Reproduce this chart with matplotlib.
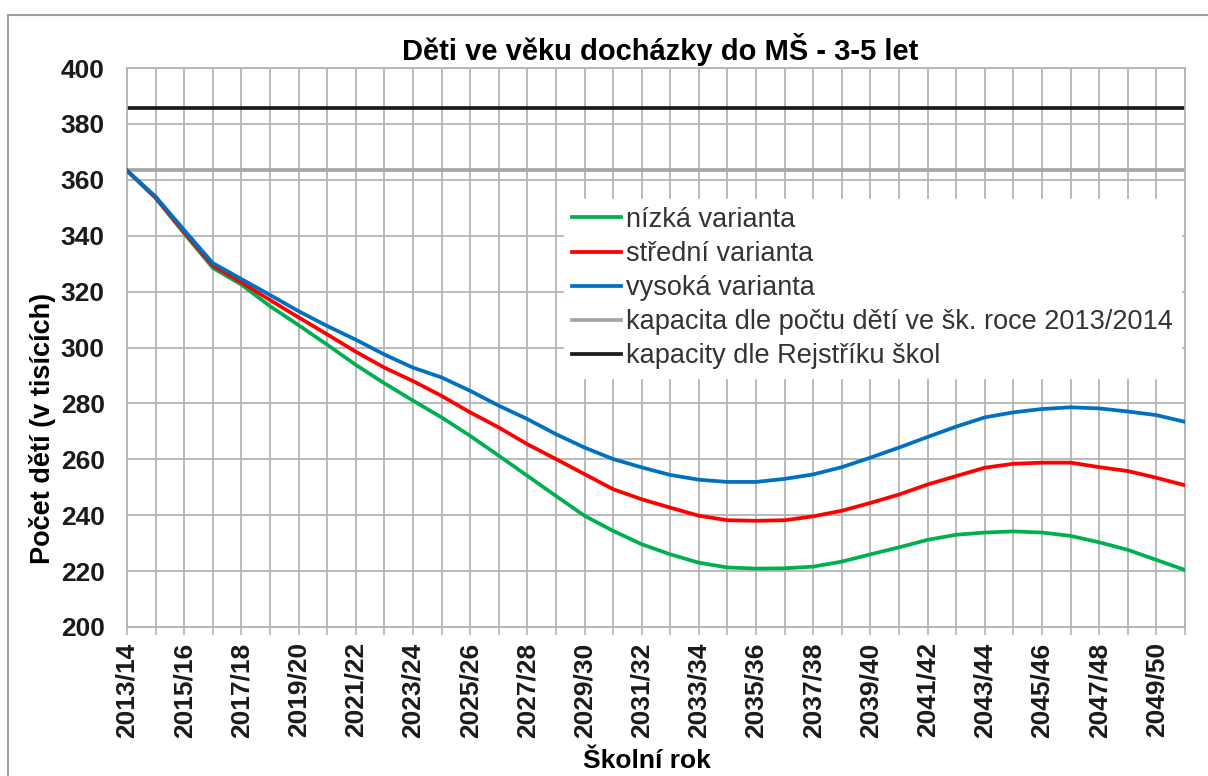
"""Děti ve věku docházky do MŠ - projekce podle variant."""

import matplotlib
matplotlib.use("Agg")
import matplotlib.pyplot as plt
from matplotlib.patches import Rectangle

plt.rcParams["font.family"] = ["Liberation Sans", "DejaVu Sans"]

school_years = [
    "2013/14", "2014/15", "2015/16", "2016/17", "2017/18", "2018/19", "2019/20",
    "2020/21", "2021/22", "2022/23", "2023/24", "2024/25", "2025/26", "2026/27",
    "2027/28", "2028/29", "2029/30", "2030/31", "2031/32", "2032/33", "2033/34",
    "2034/35", "2035/36", "2036/37", "2037/38", "2038/39", "2039/40", "2040/41",
    "2041/42", "2042/43", "2043/44", "2044/45", "2045/46", "2046/47", "2047/48",
    "2048/49", "2049/50", "2050/51",
]

# v tisících
low = [363.3, 353.5, 340.8, 328.5, 322.5, 314.8, 308.0, 301.0, 293.8, 287.2,
       281.0, 275.0, 268.4, 261.3, 254.1, 246.9, 239.8, 234.4, 229.6, 226.0,
       223.0, 221.3, 220.9, 221.0, 221.6, 223.4, 226.0, 228.5, 231.2, 233.0,
       233.8, 234.2, 233.8, 232.6, 230.3, 227.6, 224.0, 220.4]
medium = [363.3, 353.6, 341.3, 329.3, 323.3, 317.0, 310.8, 304.7, 298.5, 292.8,
          288.0, 282.7, 276.8, 271.4, 265.4, 260.1, 254.7, 249.3, 245.7, 242.7,
          239.8, 238.2, 238.0, 238.2, 239.6, 241.6, 244.4, 247.4, 251.0, 254.0,
          257.0, 258.4, 258.8, 258.8, 257.2, 255.8, 253.4, 250.7]
high = [363.3, 354.0, 342.0, 330.2, 324.5, 318.8, 313.0, 307.7, 302.8, 297.5,
        292.8, 289.3, 284.5, 279.2, 274.4, 269.0, 264.2, 260.1, 257.1, 254.4,
        252.7, 251.9, 251.9, 253.0, 254.6, 257.2, 260.6, 264.2, 268.0, 271.7,
        275.0, 276.8, 278.0, 278.6, 278.2, 277.1, 275.8, 273.4]

capacity_2013 = 363.6
capacity_register = 385.6

labels = [
    "nízká varianta",
    "střední varianta",
    "vysoká varianta",
    "kapacita dle počtu dětí ve šk. roce 2013/2014",
    "kapacity dle Rejstříku škol",
]

grid_col = "#b4b4b4"
x = list(range(len(school_years)))

fig = plt.figure(figsize=(12.08, 7.76), dpi=100)
ax = fig.add_axes([127 / 1208, 1 - 627 / 776, 1058 / 1208, 559 / 776])

ax.plot(x, low, color="#00b050", lw=2.7, label=labels[0], zorder=3)
ax.plot(x, medium, color="#ff0000", lw=2.7, label=labels[1], zorder=3)
ax.plot(x, high, color="#0070c0", lw=2.7, label=labels[2], zorder=3)
ax.axhline(capacity_2013, color="#a6a6a6", lw=2.7, label=labels[3], zorder=2)
ax.axhline(capacity_register, color="#1c1c1c", lw=2.7, label=labels[4], zorder=2)

ax.set_xlim(0, len(x) - 1)
ax.set_ylim(200, 400)
ax.set_yticks(range(200, 401, 20))
ax.set_xticks(x)
ax.set_xticklabels([s if i % 2 == 0 else "" for i, s in enumerate(school_years)],
                   rotation=90, fontsize=19, fontweight="bold", color="#1a1a1a")
ax.tick_params(axis="x", length=6, width=1.2, color=grid_col, pad=5)
ax.tick_params(axis="y", length=0, pad=16, labelsize=19, labelcolor="#1a1a1a")
for t in ax.get_yticklabels():
    t.set_fontweight("bold")

ax.grid(True, color=grid_col, lw=1.3)
ax.set_axisbelow(True)
for s in ax.spines.values():
    s.set_color(grid_col)
    s.set_linewidth(1.3)

leg = ax.legend(loc="upper left", bbox_to_anchor=(0.413, 0.766), frameon=True,
                fancybox=False, edgecolor="white", facecolor="white", framealpha=1,
                fontsize=19.5, handlelength=1.8, handletextpad=0.2,
                labelspacing=0.30, borderpad=0.3, borderaxespad=0)
for t in leg.get_texts():
    t.set_color("#333333")

fig.text(660 / 1208, 1 - 50 / 776, "Děti ve věku docházky do MŠ - 3-5 let",
         ha="center", va="center", fontsize=21, fontweight="bold")
fig.text(647 / 1208, 1 - 761 / 776, "Školní rok", ha="center", va="center",
         fontsize=19, fontweight="bold")
fig.text(43 / 1208, 1 - 428 / 776, "Počet dětí (v tisících)", ha="center",
         va="center", rotation=90, fontsize=19.5, fontweight="bold")

fig.patches.append(Rectangle((8 / 1208, -0.05), 1.2, 1 - 15 / 776 + 0.05,
                             transform=fig.transFigure, fill=False,
                             edgecolor="#a0a0a0", lw=1.5))

fig.savefig("out.png", dpi=100)
